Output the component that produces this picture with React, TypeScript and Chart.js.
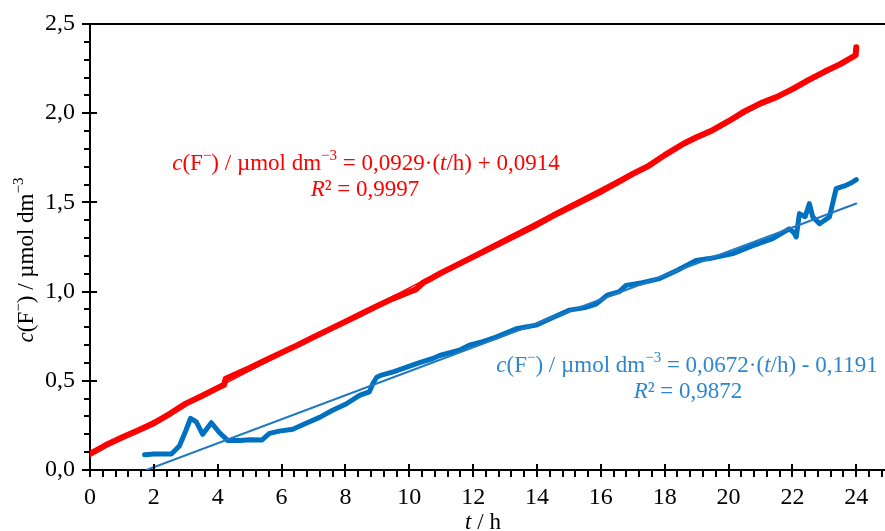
import React, { useEffect, useRef } from 'react';
import { Chart, registerables } from 'chart.js';

Chart.register(...registerables);

// ---- Data ----
const redT = [0, 0.5, 1.0, 1.5, 2.0, 2.5, 3.0, 3.5, 4.0, 4.2, 4.25, 4.6, 5.0, 5.5, 6.0, 6.5, 7.0, 7.5, 8.0, 8.5, 9.0, 9.5, 10.0, 10.2, 10.45, 10.7, 11.0, 11.5, 12.0, 12.5, 13.0, 13.5, 14.0, 14.5, 15.0, 15.5, 16.0, 16.5, 17.0, 17.5, 18.0, 18.6, 19.0, 19.5, 20.0, 20.5, 21.0, 21.5, 22.0, 22.5, 23.0, 23.5, 23.98, 24.0];
const redC = [0.09, 0.14, 0.182, 0.222, 0.262, 0.315, 0.372, 0.415, 0.46, 0.478, 0.512, 0.54, 0.572, 0.615, 0.658, 0.7, 0.745, 0.788, 0.832, 0.876, 0.92, 0.962, 0.998, 1.012, 1.052, 1.075, 1.105, 1.15, 1.195, 1.24, 1.285, 1.33, 1.375, 1.425, 1.47, 1.515, 1.56, 1.61, 1.66, 1.705, 1.765, 1.83, 1.865, 1.905, 1.955, 2.01, 2.055, 2.09, 2.135, 2.185, 2.232, 2.275, 2.325, 2.37];

const blueT = [1.71, 2.0, 2.55, 2.8, 3.0, 3.15, 3.33, 3.53, 3.8, 4.05, 4.32, 4.7, 5.0, 5.38, 5.62, 5.93, 6.35, 6.77, 7.19, 7.6, 8.02, 8.44, 8.75, 8.86, 8.98, 9.1, 9.5, 9.9, 10.3, 10.74, 10.95, 11.57, 11.88, 12.3, 12.72, 13.35, 13.97, 14.5, 15.02, 15.5, 15.85, 16.2, 16.58, 16.79, 17.3, 17.84, 18.4, 18.98, 19.4, 19.8, 20.13, 20.76, 21.38, 21.9, 22.05, 22.12, 22.22, 22.4, 22.53, 22.64, 22.85, 23.16, 23.37, 23.68, 23.85, 24.0];
const blueC = [0.085, 0.09, 0.09, 0.135, 0.22, 0.29, 0.27, 0.2, 0.265, 0.21, 0.165, 0.165, 0.17, 0.168, 0.205, 0.218, 0.228, 0.262, 0.295, 0.335, 0.37, 0.418, 0.438, 0.485, 0.52, 0.53, 0.55, 0.575, 0.6, 0.625, 0.642, 0.672, 0.7, 0.72, 0.745, 0.792, 0.812, 0.855, 0.896, 0.91, 0.93, 0.98, 1.0, 1.035, 1.05, 1.073, 1.12, 1.175, 1.185, 1.2, 1.213, 1.258, 1.297, 1.352, 1.33, 1.306, 1.437, 1.42, 1.493, 1.418, 1.38, 1.418, 1.577, 1.596, 1.61, 1.628];

// trendline end points (from the printed equations)
const redFitT = [0, 24];
const redFitC = [0.0914, 2.3210];
const blueFitT = [1.77, 24];
const blueFitC = [0.0, 1.4937];

const xTickValues = [0, 2, 4, 6, 8, 10, 12, 14, 16, 18, 20, 22, 24];
const yTickValues = [0, 0.5, 1.0, 1.5, 2.0, 2.5];

const redEq = 'c(F−) / µmol dm−3 = 0,0929·(t/h) + 0,0914';
const redR2 = 'R² = 0,9997';
const blueEq = 'c(F−) / µmol dm−3 = 0,0672·(t/h) - 0,1191';
const blueR2 = 'R² = 0,9872';

const FONT = '"Liberation Serif", "Times New Roman", serif';
const TXT = 23;

type Seg = { t: string; it?: boolean; sup?: boolean };

function drawRich(ctx: CanvasRenderingContext2D, segs: Seg[], cx: number, cy: number, size: number, color: string) {
  const fontOf = (s: Seg) => `${s.it ? 'italic ' : ''}${s.sup ? Math.round(size * 0.66) : size}px ${FONT}`;
  let total = 0;
  const widths = segs.map((s) => {
    ctx.font = fontOf(s);
    const w = ctx.measureText(s.t).width;
    total += w;
    return w;
  });
  let x = cx - total / 2;
  const base = cy + size * 0.33;
  ctx.fillStyle = color;
  ctx.textBaseline = 'alphabetic';
  ctx.textAlign = 'left';
  segs.forEach((s, i) => {
    ctx.font = fontOf(s);
    ctx.fillText(s.t, x, s.sup ? base - size * 0.4 : base);
    x += widths[i];
  });
}

function eqSegs(eq: string): Seg[] {
  const rest = eq.split('dm−3')[1];
  const [pre, post] = rest.split('·(t/h)');
  return [
    { t: 'c', it: true },
    { t: '(F' },
    { t: '−', sup: true },
    { t: ') / µmol dm' },
    { t: '−3', sup: true },
    { t: pre + '·(' },
    { t: 't', it: true },
    { t: '/h)' + post },
  ];
}

function r2Segs(r: string): Seg[] {
  return [{ t: 'R', it: true }, { t: r.slice(1) }];
}

const decorPlugin = {
  id: 'decor',
  afterDraw(chart: any) {
    const ctx: CanvasRenderingContext2D = chart.ctx;
    const xs = chart.scales.x;
    const ys = chart.scales.y;
    const area = chart.chartArea;
    ctx.save();
    ctx.strokeStyle = '#000';
    ctx.lineWidth = 2;
    ctx.beginPath();
    ctx.moveTo(area.left - 1, area.top);
    ctx.lineTo(area.right, area.top);
    ctx.stroke();
    for (let i = 0; i <= 25; i++) {
      const v = i / 10;
      const py = Math.round(ys.getPixelForValue(v));
      const major = i % 5 === 0;
      ctx.beginPath();
      ctx.moveTo(area.left - (major ? 8 : 6), py);
      ctx.lineTo(area.left + (major ? 7 : 0), py);
      ctx.stroke();
    }
    for (let i = 0; i <= 62; i++) {
      const v = i * 0.4;
      if (v > 24.85) break;
      const px = Math.round(xs.getPixelForValue(v));
      const major = i % 5 === 0;
      ctx.beginPath();
      ctx.moveTo(px, area.bottom + 7);
      ctx.lineTo(px, area.bottom - (major ? 6 : 0));
      ctx.stroke();
    }
    ctx.save();
    ctx.translate(25, 260);
    ctx.rotate(-Math.PI / 2);
    drawRich(ctx, [
      { t: 'c', it: true },
      { t: '(F' },
      { t: '−', sup: true },
      { t: ') / µmol dm' },
      { t: '−3', sup: true },
    ], 0, 0, TXT, '#000');
    ctx.restore();
    drawRich(ctx, [{ t: 't', it: true }, { t: ' / h' }], 483, 521, TXT, '#000');
    drawRich(ctx, eqSegs(redEq), 366, 162, TXT, '#FF0000');
    drawRich(ctx, r2Segs(redR2), 365, 188, TXT, '#FF0000');
    drawRich(ctx, eqSegs(blueEq), 687, 364, TXT, '#2E86D0');
    drawRich(ctx, r2Segs(blueR2), 688, 390, TXT, '#2E86D0');
    ctx.restore();
  },
};

export default function App() {
  const ref = useRef<HTMLCanvasElement>(null);
  useEffect(() => {
    document.body.style.margin = '0';
    const toPts = (t: number[], c: number[]) => t.map((x, i) => ({ x, y: c[i] }));
    const chart = new Chart(ref.current!, {
      type: 'scatter',
      data: {
        datasets: [
          { data: toPts(redFitT, redFitC), showLine: true, borderColor: '#FF0000', borderWidth: 1.5, pointRadius: 0, order: 0 },
          { data: toPts(blueFitT, blueFitC), showLine: true, borderColor: '#1F78C4', borderWidth: 2, pointRadius: 0, order: 1 },
          { data: toPts(redT, redC), showLine: true, borderColor: '#FF0000', borderWidth: 6, pointRadius: 0, order: 2 },
          { data: toPts(blueT, blueC), showLine: true, borderColor: '#0070C0', borderWidth: 5, pointRadius: 0, order: 3 },
        ],
      },
      plugins: [decorPlugin],
      options: {
        responsive: false,
        animation: false,
        layout: { padding: { top: 24, right: 0, left: 0, bottom: 0 } },
        plugins: { legend: { display: false }, tooltip: { enabled: false } },
        elements: { line: { tension: 0, borderCapStyle: 'round', borderJoinStyle: 'round' } },
        scales: {
          x: {
            type: 'linear',
            min: 0,
            max: 24.9,
            afterBuildTicks: (s: any) => { s.ticks = xTickValues.map((v) => ({ value: v })); },
            afterFit: (s: any) => { s.height = 61; s.paddingLeft = 0; s.paddingRight = 0; },
            grid: { display: false, drawTicks: false },
            border: { display: true, color: '#000', width: 2 },
            ticks: { color: '#000', font: { family: FONT, size: 24 }, padding: 13, maxRotation: 0, autoSkip: false, callback: (v: any) => String(v) },
          },
          y: {
            type: 'linear',
            min: 0,
            max: 2.5,
            afterBuildTicks: (s: any) => { s.ticks = yTickValues.map((v) => ({ value: v })); },
            afterFit: (s: any) => { s.width = 90; s.paddingTop = 0; s.paddingBottom = 0; },
            grid: { display: false, drawTicks: false },
            border: { display: true, color: '#000', width: 2 },
            ticks: { color: '#000', font: { family: FONT, size: 24 }, padding: 15, callback: (v: any) => Number(v).toFixed(1).replace('.', ',') },
          },
        },
      } as any,
    });
    return () => chart.destroy();
  }, []);
  return (
    <div style={{ width: 885, height: 531 }}>
      <canvas ref={ref} width={885} height={531} style={{ display: 'block' }} />
    </div>
  );
}
